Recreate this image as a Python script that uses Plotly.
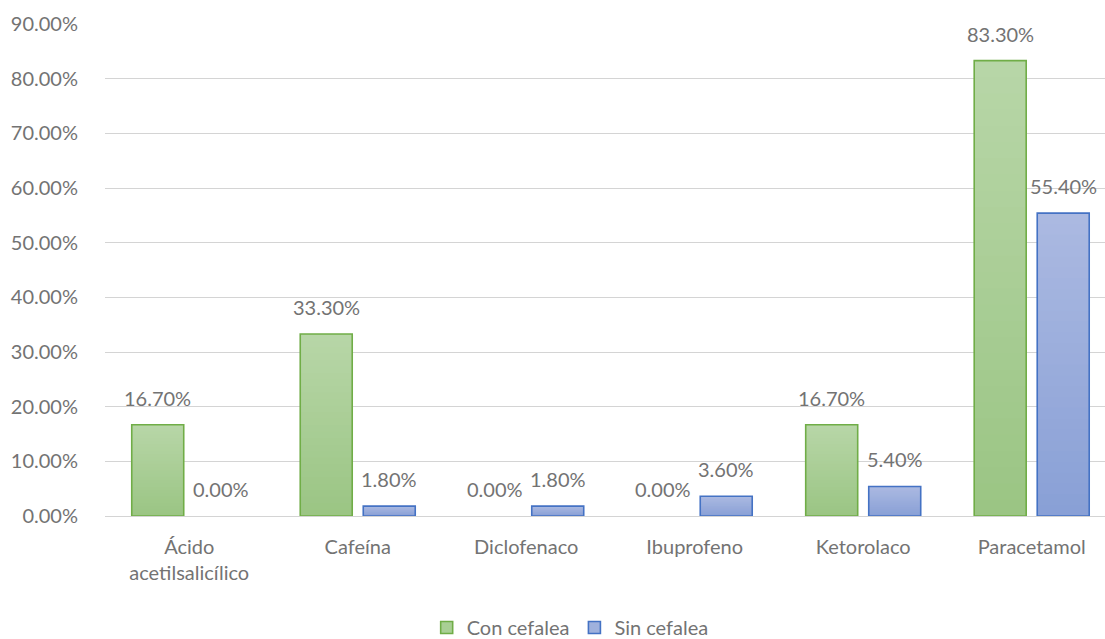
import plotly.graph_objects as go

categories = ["Ácido<br>acetilsalicílico", "Cafeína", "Diclofenaco", "Ibuprofeno", "Ketorolaco", "Paracetamol"]
con_cefalea = [16.7, 33.3, 0.0, 0.0, 16.7, 83.3]
sin_cefalea = [0.0, 1.8, 1.8, 3.6, 5.4, 55.4]
y_ticks = [0, 10, 20, 30, 40, 50, 60, 70, 80, 90]

TEXT = "#737373"
FONT = "Lato"
SIZE = 20
STEPS = 28

series = [
    dict(name="Con cefalea", values=con_cefalea, group="con",
         top=(183, 214, 167), bottom=(155, 197, 132), line="#70ad47", legend="#a9cf95"),
    dict(name="Sin cefalea", values=sin_cefalea, group="sin",
         top=(171, 185, 225), bottom=(137, 160, 214), line="#4472c4", legend="#9fb1dd"),
]

x = list(range(len(categories)))
fig = go.Figure()


def mix(a, b, t):
    return "rgb({},{},{})".format(*[round(a[i] + (b[i] - a[i]) * t) for i in range(3)])


for s in series:
    vals = s["values"]
    # vertical gradient: overlaid bars of shrinking height, light at top -> darker at bottom
    for k in range(STEPS):
        frac = (STEPS - k) / STEPS
        fig.add_trace(go.Bar(
            x=x, y=[v * frac for v in vals], offsetgroup=s["group"],
            marker=dict(color=mix(s["top"], s["bottom"], k / (STEPS - 1)), line=dict(width=0)),
            showlegend=False, hoverinfo="skip",
        ))
    # outline on top of the gradient
    fig.add_trace(go.Bar(
        x=x, y=vals, offsetgroup=s["group"], name=s["name"],
        marker=dict(color="rgba(0,0,0,0)",
                    line=dict(color=s["line"], width=[1.6 if v > 0 else 0 for v in vals])),
        showlegend=False,
    ))
    # legend swatch
    fig.add_trace(go.Bar(
        x=[None], y=[None], name=s["name"], offsetgroup=s["group"],
        marker=dict(color=s["legend"], line=dict(color=s["line"], width=1.6)),
    ))

# value labels above each bar
slot = 0.187
for s, sign in zip(series, (-1, 1)):
    for i, v in enumerate(s["values"]):
        fig.add_annotation(
            x=i + sign * slot, y=v, xref="x", yref="y", text=f"{v:.2f}%",
            showarrow=False, yanchor="bottom", yshift=13,
            font=dict(family=FONT, size=SIZE, color=TEXT),
        )

fig.update_layout(
    width=1105, height=639,
    margin=dict(l=105, r=0, t=24, b=123),
    paper_bgcolor="white", plot_bgcolor="white",
    barmode="group", bargap=0.252, bargroupgap=0.175,
    font=dict(family=FONT, size=SIZE, color=TEXT),
    legend=dict(orientation="h", xref="container", yref="container",
                x=0.516, y=0.018, xanchor="center", yanchor="middle",
                font=dict(family=FONT, size=SIZE, color=TEXT),
                itemwidth=30, traceorder="normal"),
    xaxis=dict(tickmode="array", tickvals=x, ticktext=categories,
               range=[-0.5, 5.435], showgrid=False, zeroline=False, showline=False,
               ticks="outside", ticklen=13, tickcolor="rgba(0,0,0,0)",
               tickfont=dict(family=FONT, size=SIZE, color=TEXT)),
    yaxis=dict(range=[0, 90], tickmode="array", tickvals=y_ticks,
               ticktext=[f"{v:.2f}%" for v in y_ticks],
               showgrid=True, gridcolor="#d4d4d4", gridwidth=1.4,
               zeroline=True, zerolinecolor="#d4d4d4", zerolinewidth=1.4,
               showline=False, ticks="outside", ticklen=22, tickcolor="rgba(0,0,0,0)",
               tickfont=dict(family=FONT, size=SIZE, color=TEXT)),
)

fig.write_html("out.html")
